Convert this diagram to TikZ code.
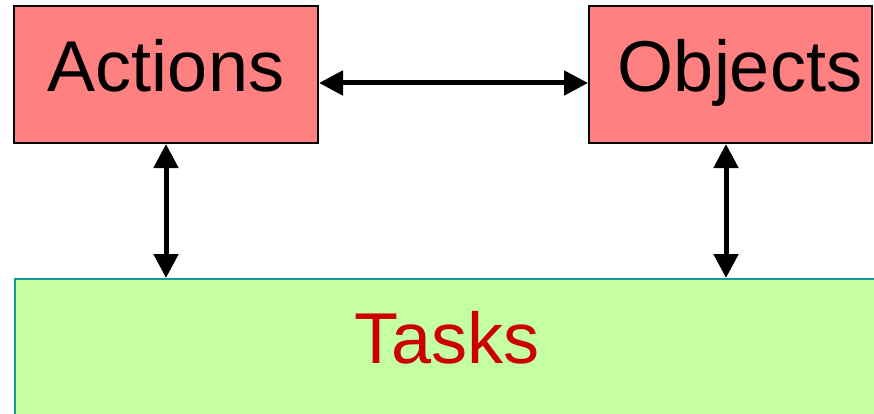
\documentclass[tikz,border=0pt]{standalone}
\usepackage{fontspec}
\setmainfont{Liberation Sans}
\usetikzlibrary{arrows.meta,calc}
\definecolor{boxpink}{HTML}{FF8080}
\definecolor{boxgreen}{HTML}{C4FFA4}
\definecolor{tealedge}{HTML}{119999}
\definecolor{taskred}{HTML}{CC0000}
\tikzset{
  pinkbox/.style={draw=black, line width=2pt, fill=boxpink, rectangle, inner sep=0pt},
  greenbox/.style={draw=tealedge, line width=2pt, fill=boxgreen, rectangle, inner sep=0pt},
  bigtext/.style={anchor=base, inner sep=0pt, font=\fontsize{72}{80}\selectfont},
  dblarrow/.style={line width=5pt, {Triangle[length=24pt,width=24pt]}-{Triangle[length=24pt,width=24pt]}}
}
\begin{document}
\begin{tikzpicture}[x=1pt,y=1pt]
\useasboundingbox (0,0) rectangle (874,413);
\begin{scope}
\clip (0,0) rectangle (874,413);
\node[pinkbox, minimum width=304pt, minimum height=137pt] (A) at (166,338.5) {};
\node[pinkbox, minimum width=283pt, minimum height=137pt] (O) at (730.5,338.5) {};
\node[greenbox, minimum width=880pt, minimum height=160pt] (T) at (455,54) {};
\node[bigtext] (at) at (166,321) {Actions};
\node[bigtext] (ot) at (740,321) {Objects};
\node[bigtext, text=taskred, font=\fontsize{72}{80}\selectfont] (tt) at (447,50) {Tasks};
\coordinate (h) at (0,330);
\coordinate (v) at (726,0);
\draw[dblarrow] (A.east |- h) -- (O.west |- h);
\draw[dblarrow] (A.south) -- (A.south |- T.north);
\draw[dblarrow] (O.south -| v) -- (v |- T.north);
\end{scope}
\end{tikzpicture}
\end{document}
